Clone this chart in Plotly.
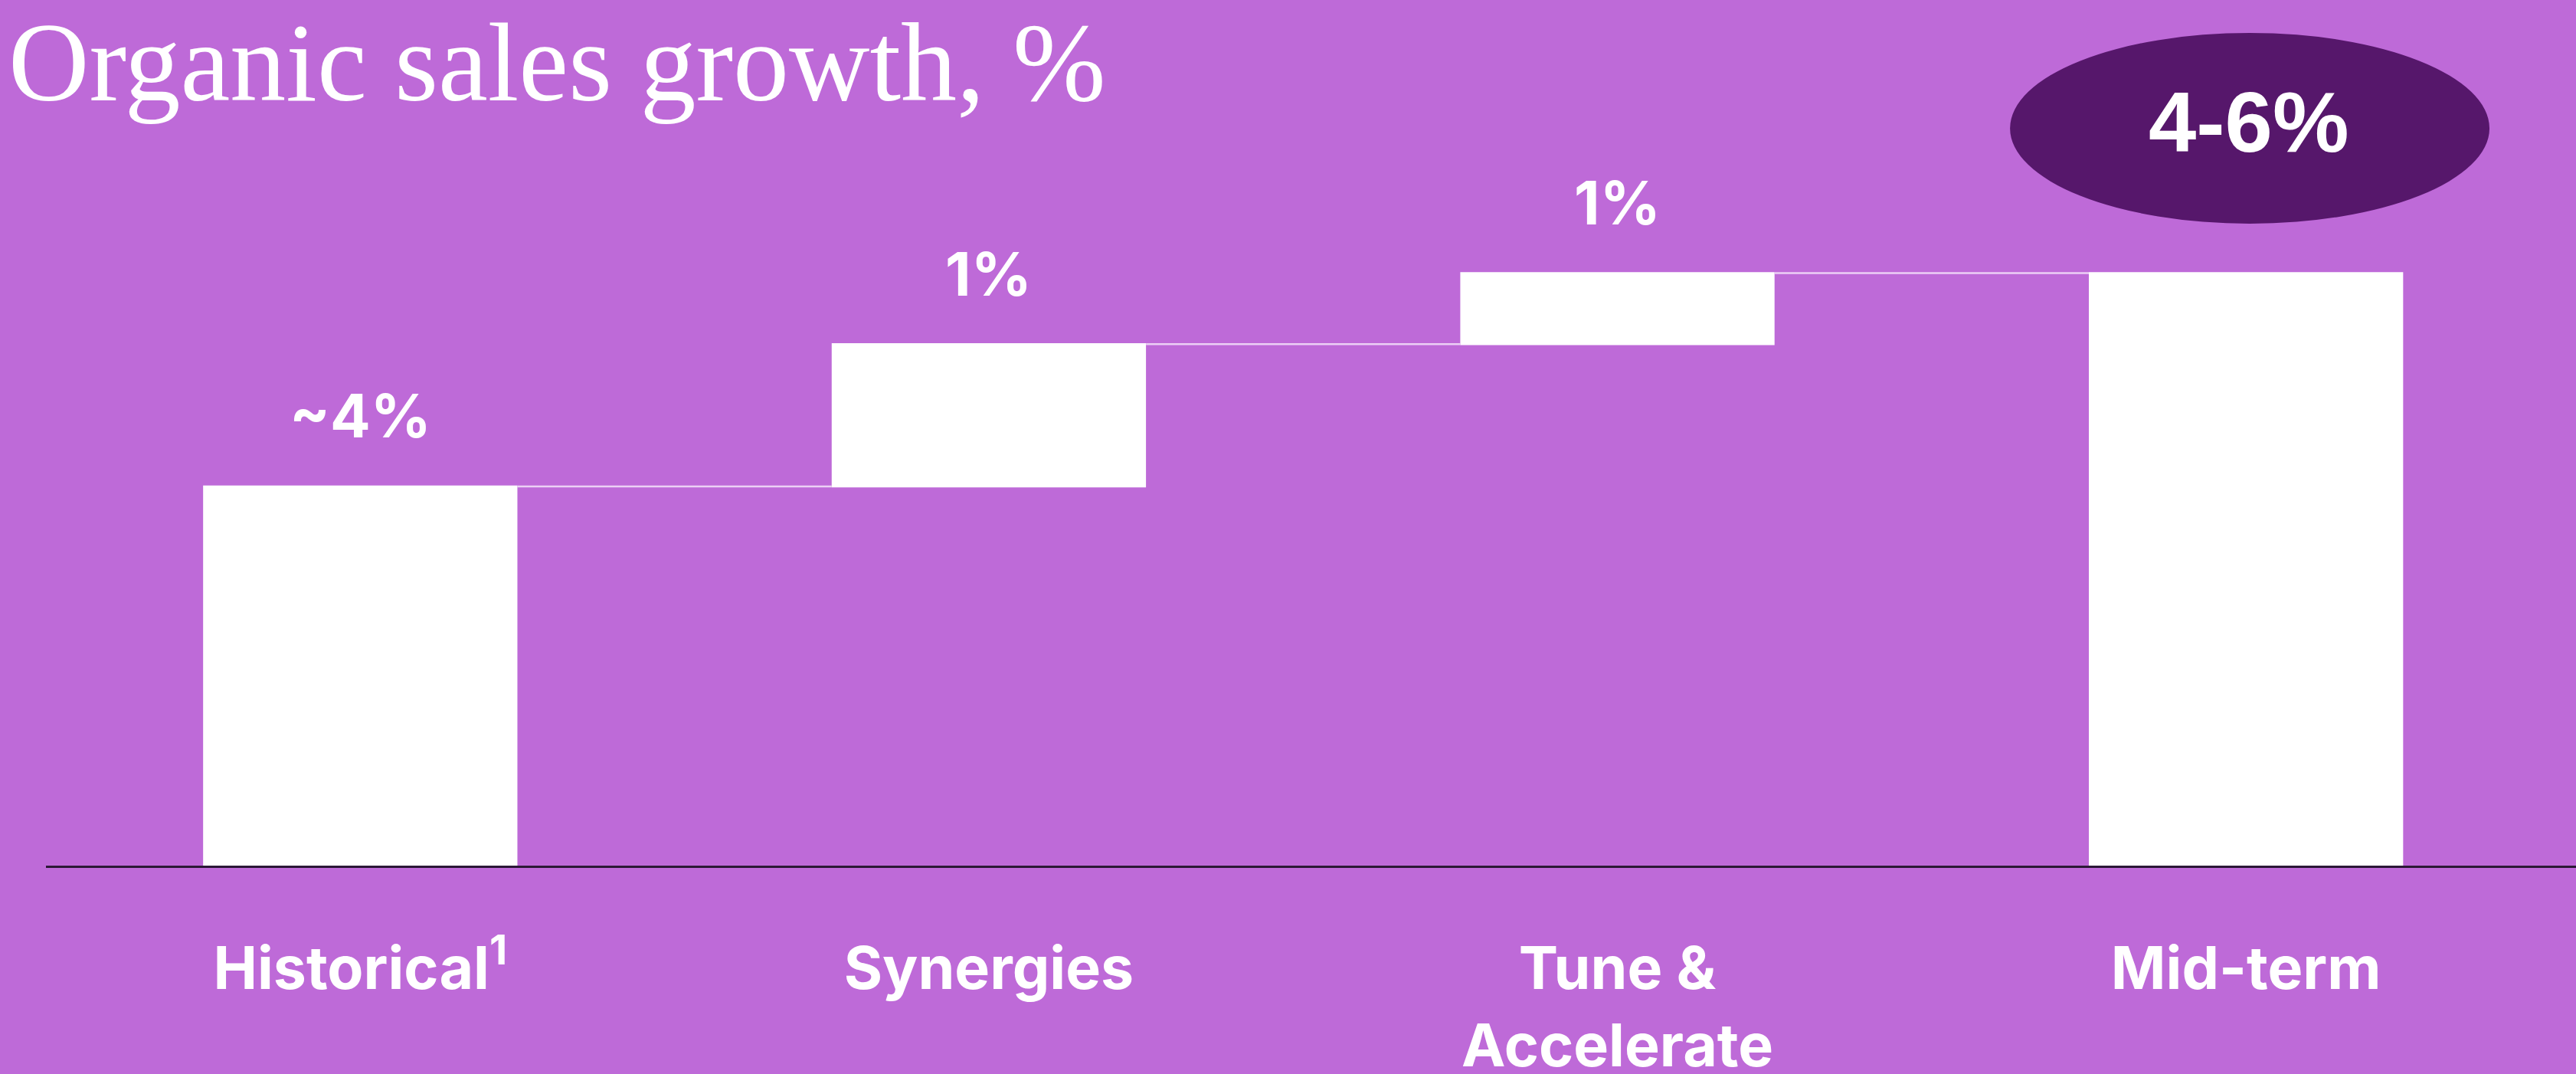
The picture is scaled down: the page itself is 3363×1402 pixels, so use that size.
import plotly.graph_objects as go

# ---- data ----
categories = ["Historical<sup>1</sup>", "Synergies", "Tune &<br>Accelerate", "Mid-term"]
measures = ["absolute", "relative", "relative", "total"]
values = [4.0, 1.5, 0.75, 0]
bar_labels = ["~4%", "1%", "1%"]
total_label = "4-6%"
title_text = "Organic sales growth, %"

BG = "#BE6AD8"
DARK = "#56176B"
WHITE = "#FFFFFF"

fig = go.Figure()
fig.add_trace(go.Waterfall(
    x=categories,
    y=values,
    measure=measures,
    width=0.5,
    increasing=dict(marker=dict(color=WHITE, line=dict(width=0))),
    decreasing=dict(marker=dict(color=WHITE, line=dict(width=0))),
    totals=dict(marker=dict(color=WHITE, line=dict(width=0))),
    connector=dict(line=dict(color="rgba(245,225,250,0.85)", width=2.5), mode="between"),
    hoverinfo="skip",
    showlegend=False,
))

# cumulative tops for label placement
cum = 0
tops = []
for m, v in zip(measures[:3], values[:3]):
    cum = v if m == "absolute" else cum + v
    tops.append(cum)

for cat, top, lab in zip(categories[:3], tops, bar_labels):
    fig.add_annotation(x=cat, y=top, xref="x", yref="y", text=lab, showarrow=False,
                       yanchor="middle", yshift=92,
                       font=dict(family="Inter", size=78, color=WHITE, weight="bold"))

# highlighted total badge
fig.add_shape(type="circle", xref="paper", yref="paper",
              x0=0.7763, x1=0.9658, y0=0.7416, y1=0.962,
              fillcolor=DARK, line=dict(width=0), layer="above")
fig.add_annotation(x=0.8705, y=0.852, xref="paper", yref="paper", text=total_label,
                   showarrow=False, xanchor="center", yanchor="middle", yshift=8,
                   font=dict(family="Liberation Sans", size=112, color=WHITE, weight="bold"))

fig.update_layout(
    width=3363, height=1402,
    paper_bgcolor=BG, plot_bgcolor=BG,
    margin=dict(l=60, r=0, t=0, b=272, autoexpand=False),
    title=dict(text=title_text, xref="container", yref="container",
               x=0.0033, xanchor="left", y=0.943, yanchor="middle",
               font=dict(family="Liberation Serif", size=146, color=WHITE)),
    xaxis=dict(range=[-0.5, 3.525], showline=True, linecolor="#2B1836", linewidth=3,
               showgrid=False, zeroline=False, ticks="", ticklabelstandoff=66,
               automargin=False,
               tickfont=dict(family="Inter", size=77, color=WHITE, weight="bold")),
    yaxis=dict(range=[0, 9.13], visible=False, showgrid=False, zeroline=False,
               automargin=False),
)

fig.write_html("out.html", config={"displayModeBar": False},
               post_script="document.body.style.margin='0';document.body.style.overflow='hidden';")
